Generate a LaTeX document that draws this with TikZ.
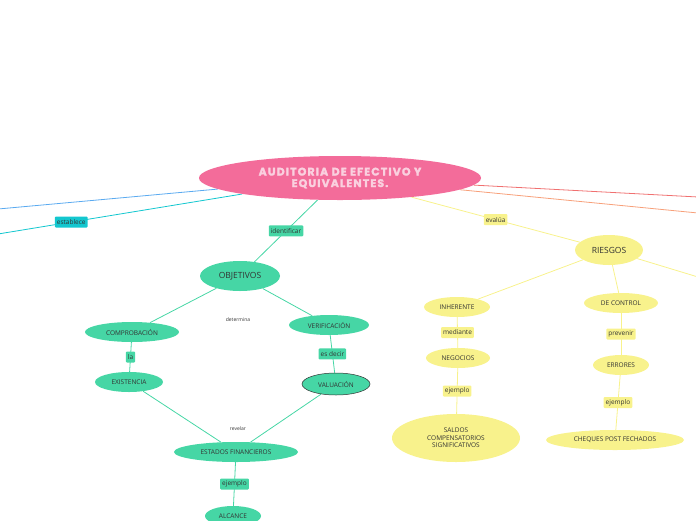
\documentclass[tikz,border=0pt]{standalone}
\usepackage{fontspec}
\setmainfont{Open Sans}
\newfontfamily\titlefont{Poppins}[LetterSpace=10, BoldFeatures={FakeBold=2.2}]
\usetikzlibrary{shapes.geometric}
\pgfdeclarelayer{bg}
\pgfsetlayers{bg,main}
\definecolor{pinkc}{HTML}{F36C9A}
\definecolor{pinkt}{HTML}{FAD0DF}
\definecolor{greenc}{HTML}{46D6A5}
\definecolor{yellowc}{HTML}{F8F28C}
\definecolor{cyanc}{HTML}{13C7CF}
\definecolor{bluec}{HTML}{5AAAF0}
\definecolor{redc}{HTML}{F07070}
\definecolor{orangec}{HTML}{F7A07A}
\definecolor{txt}{HTML}{333333}
\tikzset{
  ell/.style={ellipse, inner sep=0pt, text=txt, align=center},
  gnode/.style={ell, fill=greenc, font=\fontsize{6.5}{7.5}\selectfont},
  ynode/.style={ell, fill=yellowc, font=\fontsize{6.5}{7.5}\selectfont},
  lbl/.style={rounded corners=1pt, inner sep=2pt, text=txt, font=\fontsize{6.5}{7.5}\selectfont, minimum height=11pt},
  glbl/.style={lbl, fill=greenc},
  ylbl/.style={lbl, fill=yellowc},
  clbl/.style={lbl, fill=cyanc},
  gline/.style={draw=greenc, line width=0.8pt},
  yline/.style={draw=yellowc, line width=0.8pt},
  plain/.style={text=txt, font=\fontsize{5}{6}\selectfont},
}
\begin{document}
\begin{tikzpicture}[x=1pt,y=-1pt]
\useasboundingbox (0,0) rectangle (696,520);
% off-canvas coordinates
\coordinate (bl) at (-2,209);
\coordinate (cl) at (-2,234);
\coordinate (rr) at (698,197);
\coordinate (or) at (698,213);
\coordinate (yr) at (698,277);
\node[ell, fill=pinkc, minimum width=282pt, minimum height=44pt, text=pinkt,
      font=\titlefont\bfseries\fontsize{11}{11.5}\selectfont] (main) at (340,178)
      {AUDITORIA DE EFECTIVO Y\\EQUIVALENTES.};
\node[gnode, minimum width=80pt, minimum height=30pt, font=\fontsize{8.5}{9}\selectfont] (obj) at (240,276) {OBJETIVOS};
\node[ynode, minimum width=68pt, minimum height=30pt, font=\fontsize{8.5}{9}\selectfont] (ries) at (609,250) {RIESGOS};
% green branch
\node[gnode, minimum width=94pt, minimum height=20pt] (comp) at (132,332) {COMPROBACIÓN};
\node[gnode, minimum width=80pt, minimum height=20pt] (veri) at (329,325) {VERIFICACIÓN};
\node[plain] (det) at (238,320) {determina};
\node[gnode, minimum width=68pt, minimum height=20pt] (exis) at (129,382) {EXISTENCIA};
\node[gnode, draw=black!80, line width=0.5pt, minimum width=68pt, minimum height=22pt] (valu) at (336,384) {VALUACIÓN};
\node[gnode, minimum width=124pt, minimum height=20pt] (estf) at (236,452) {ESTADOS FINANCIEROS};
\node[plain] (rev) at (238,429) {revelar};
\node[gnode, minimum width=56pt, minimum height=20pt] (alc) at (233,516) {ALCANCE};
% yellow branch
\node[ynode, minimum width=66pt, minimum height=20pt] (inh) at (457,307) {INHERENTE};
\node[ynode, minimum width=74pt, minimum height=20pt] (dec) at (621,303) {DE CONTROL};
\node[ynode, minimum width=64pt, minimum height=20pt] (neg) at (458,358) {NEGOCIOS};
\node[ynode, minimum width=128pt, minimum height=48pt] (sal) at (456,438) {SALDOS\\COMPENSATORIOS\\SIGNIFICATIVOS};
\node[ynode, minimum width=56pt, minimum height=20pt] (err) at (621,365) {ERRORES};
\node[ynode, minimum width=138pt, minimum height=20pt] (che) at (615,440) {CHEQUES POST FECHADOS};
\begin{pgfonlayer}{bg}
\draw[bluec, line width=0.8pt] (main) -- (bl);
\draw[cyanc, line width=0.8pt] (main) -- node[clbl, pos=0.7] {establece} (cl);
\draw[redc, line width=0.8pt] (main) -- (rr);
\draw[orangec, line width=0.8pt] (main) -- (or);
\draw[gline] (main) -- node[glbl, pos=0.5] {identificar} (obj);
\draw[yline] (main) -- node[ylbl, pos=0.5] {evalúa} (ries);
\draw[gline] (obj) -- (comp);
\draw[gline] (obj) -- (veri);
\draw[gline] (comp) -- node[glbl, pos=0.5] {la} (exis);
\draw[gline] (veri) -- node[glbl, pos=0.5] {es decir} (valu);
\draw[gline] (exis) -- (estf);
\draw[gline] (valu) -- (estf);
\draw[gline] (estf) -- node[glbl, pos=0.5] {ejemplo} (alc);
\draw[yline] (ries) -- (inh);
\draw[yline] (ries) -- (dec);
\draw[yline] (ries) -- (yr);
\draw[yline] (inh) -- node[ylbl, pos=0.5] {mediante} (neg);
\draw[yline] (neg) -- node[ylbl, pos=0.5] {ejemplo} (sal);
\draw[yline] (dec) -- node[ylbl, pos=0.5] {prevenir} (err);
\draw[yline] (err) -- node[ylbl, pos=0.5] {ejemplo} (che);
\end{pgfonlayer}
\end{tikzpicture}
\end{document}
